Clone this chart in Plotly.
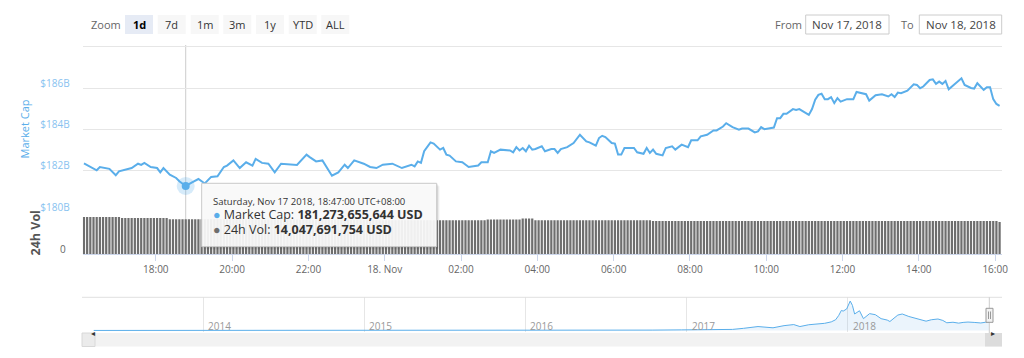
import plotly.graph_objects as go
import pandas as pd

# The page body keeps its default 8px margin, so the figure is 16px smaller
# than the window and all reference pixel positions are shifted by 8px.
OFF = 8
W, H = 1024 - 2 * OFF, 358 - 2 * OFF


def px(x):
    return (x - OFF) / W


def py(y):
    return 1 - (y - OFF) / H


# ---------------- data ----------------
# Market cap (billions USD), Nov 17 2018 (UTC+8)
mc_time_nov17 = ["16:07", "16:27", "16:32", "16:47", "16:57", "17:02", "17:22", "17:32", "17:37", "17:42",
                 "17:52", "18:02", "18:07", "18:12", "18:22", "18:32", "18:37", "18:47", "18:57", "19:07",
                 "19:17", "19:27", "19:37", "19:47", "19:52", "20:02", "20:12", "20:22", "20:32", "20:37",
                 "20:47", "20:57", "21:07", "21:17", "21:42", "21:57", "22:02", "22:12", "22:22", "22:37",
                 "22:47", "22:57", "23:02", "23:12", "23:27", "23:37", "23:47", "23:57"]
mc_value_nov17 = [182.36, 182.03, 182.19, 182.10, 181.79, 181.98, 182.14, 182.35, 182.29, 182.39,
                  182.19, 182.14, 181.93, 182.14, 181.82, 181.66, 181.50, 181.273655644, 181.45, 181.61,
                  181.39, 181.71, 181.74, 182.19, 182.26, 182.51, 182.14, 182.42, 182.26, 182.58,
                  182.39, 182.35, 181.93, 182.35, 182.29, 182.79, 182.67, 182.46, 182.51, 181.77,
                  181.93, 182.30, 182.14, 182.51, 182.35, 182.19, 182.14, 182.30]
# Nov 18 2018
mc_time_nov18 = ["00:12", "00:27", "00:42", "00:47", "00:52", "00:57", "01:02", "01:12", "01:17", "01:27",
                 "01:32", "01:37", "01:42", "01:52", "02:02", "02:12", "02:27", "02:32", "02:42", "02:47",
                 "02:52", "03:02", "03:17", "03:22", "03:27", "03:32", "03:37", "03:42", "03:47", "03:52",
                 "03:57", "04:07", "04:12", "04:22", "04:27", "04:32", "04:37", "04:47", "04:57", "05:07",
                 "05:17", "05:22", "05:32", "05:37", "05:42", "05:47", "05:57", "06:02", "06:07", "06:12",
                 "06:17", "06:32", "06:37", "06:47", "06:52", "06:57", "07:02", "07:07", "07:17", "07:22",
                 "07:32", "07:37", "07:47", "07:57", "08:02", "08:12", "08:17", "08:27", "08:37", "08:42",
                 "08:52", "08:57", "09:07", "09:17", "09:22", "09:32", "09:42", "09:47", "09:52", "09:57",
                 "10:12", "10:17", "10:22", "10:27", "10:32", "10:42", "10:47", "10:52", "11:07", "11:12",
                 "11:17", "11:22", "11:27", "11:32", "11:37", "11:42", "11:47", "11:52", "11:57", "12:07",
                 "12:17", "12:22", "12:37", "12:42", "12:52", "13:02", "13:12", "13:17", "13:22", "13:27",
                 "13:32", "13:42", "13:52", "13:57", "14:02", "14:07", "14:17", "14:22", "14:27", "14:32",
                 "14:37", "14:42", "14:47", "14:57", "15:02", "15:07", "15:12", "15:22", "15:27", "15:32",
                 "15:42", "15:47", "15:52", "15:57", "16:02", "16:07"]
mc_value_nov18 = [182.35, 182.14, 182.30, 182.22, 182.46, 182.39, 182.95, 183.38, 183.32, 183.03,
                  183.11, 182.79, 182.74, 182.46, 182.42, 182.19, 182.26, 182.42, 182.42, 182.95,
                  182.87, 183.03, 182.99, 182.90, 183.15, 182.99, 183.11, 182.95, 183.22, 183.03,
                  183.06, 183.19, 182.95, 183.06, 183.06, 182.87, 183.06, 183.15, 183.35, 183.75,
                  183.43, 183.38, 183.22, 183.59, 183.70, 183.64, 183.35, 183.32, 182.79, 182.79,
                  183.11, 183.11, 182.90, 182.83, 183.11, 182.87, 183.03, 182.83, 182.75, 183.11,
                  183.19, 183.03, 183.27, 183.15, 183.48, 183.48, 183.67, 183.75, 183.96, 183.96,
                  184.15, 184.31, 184.12, 183.99, 184.05, 184.05, 183.86, 183.91, 184.12, 184.02,
                  184.10, 184.55, 184.55, 184.76, 184.76, 184.99, 184.95, 184.99, 184.71, 184.99,
                  185.44, 185.68, 185.73, 185.47, 185.47, 185.57, 185.28, 185.52, 185.35, 185.47,
                  185.47, 185.82, 185.71, 185.40, 185.66, 185.71, 185.60, 185.71, 185.57, 185.79,
                  185.76, 185.88, 186.19, 186.16, 186.00, 186.08, 186.40, 186.43, 186.21, 186.32,
                  186.21, 186.35, 185.95, 186.21, 186.32, 186.48, 186.16, 186.01, 185.98, 186.24,
                  185.92, 186.05, 186.05, 185.47, 185.24, 185.15]

# 24h volume (billions USD), one bar every 5 minutes from 16:07 Nov 17 to 16:07 Nov 18
vol_start = "2018-11-17 16:07"
vol_value = [
    14.98, 14.97, 14.98, 14.99, 14.98, 14.98, 14.97, 14.98, 14.98, 14.99, 14.98, 14.97,
    14.58, 14.57, 14.58, 14.59, 14.58, 14.58, 14.57, 14.58, 14.58, 14.59, 14.58, 14.57,
    14.58, 14.58, 14.57, 14.06, 14.05, 14.06, 14.07, 14.06, 14.05, 14.06, 14.06, 14.07,
    14.06, 14.05, 14.05, 14.04, 14.05, 14.04, 14.03, 14.04, 14.03, 14.02, 14.03, 14.02,
    14.01, 14.02, 14.01, 14.00, 14.01, 14.00, 13.99, 14.00, 13.98, 13.99, 13.98, 13.97,
    13.96, 13.95, 13.96, 13.95, 13.94, 13.93, 13.94, 13.92, 13.91, 13.92, 13.90, 13.89,
    13.88, 13.87, 13.88, 13.86, 13.85, 13.84, 13.85, 13.83, 13.82, 13.81, 13.80, 13.79,
    13.78, 13.77, 13.76, 13.77, 13.75, 13.74, 13.73, 13.74, 13.72, 13.71, 13.70, 13.71,
    13.70, 13.69, 13.68, 13.69, 13.67, 13.66, 13.67, 13.66, 13.65, 13.66, 13.65, 13.66,
    13.65, 13.64, 13.65, 13.65, 13.66, 13.65, 13.64, 13.65, 13.66, 13.65, 13.64, 13.65,
    13.66, 13.65, 13.64, 13.65, 13.66, 13.65, 13.64, 13.95, 13.96, 13.95, 13.94, 13.95,
    13.96, 13.95, 13.94, 13.95, 13.96, 13.95, 14.34, 14.35, 14.34, 14.33, 13.65, 13.66,
    13.65, 13.64, 13.65, 13.66, 13.65, 13.64, 13.65, 13.66, 13.65, 13.64, 13.65, 13.66,
    13.65, 13.64, 13.65, 13.66, 13.65, 13.64, 13.65, 13.66, 13.65, 13.64, 13.65, 13.66,
    13.65, 13.64, 13.65, 13.66, 13.65, 13.64, 13.65, 13.66, 13.65, 13.64, 13.65, 13.37,
    13.37, 13.36, 13.37, 13.38, 13.37, 13.36, 13.37, 13.38, 13.37, 13.36, 13.37, 13.38,
    13.37, 13.38, 13.37, 13.36, 13.37, 13.38, 13.37, 13.36, 13.37, 13.37, 13.38, 13.37,
    13.36, 13.37, 13.38, 13.37, 13.36, 13.37, 13.38, 13.37, 13.36, 13.37, 13.38, 13.37,
    13.37, 13.36, 13.37, 13.38, 13.37, 13.36, 13.37, 13.38, 13.37, 13.36, 13.37, 13.38,
    13.38, 13.37, 13.36, 13.37, 13.38, 13.37, 13.36, 13.37, 13.38, 13.37, 13.36, 13.37,
    13.37, 13.36, 13.37, 13.38, 13.37, 13.36, 13.37, 13.38, 13.37, 13.36, 13.37, 13.38,
    13.36, 13.37, 13.38, 13.37, 13.36, 13.37, 13.38, 13.37, 13.36, 13.37, 13.38, 13.37,
    13.37, 13.38, 13.37, 13.36, 13.37, 13.38, 13.37, 13.36, 13.37, 13.38, 13.37, 13.36,
    13.37, 13.36, 13.37, 13.38, 13.37, 13.36, 13.37, 13.38, 13.37, 13.36, 13.37, 13.37,
    12.97,
]

# Navigator: full history of market cap (billions USD)
nav_date = ["2013-04-28", "2013-06-15", "2013-08-15", "2013-10-15", "2013-11-15", "2013-12-04",
            "2013-12-20", "2014-01-15", "2014-02-15", "2014-03-15", "2014-04-15", "2014-06-15",
            "2014-08-15", "2014-10-15", "2014-12-15", "2015-01-15", "2015-03-15", "2015-06-15",
            "2015-08-15", "2015-11-05", "2016-01-15", "2016-03-15", "2016-06-15", "2016-07-15",
            "2016-10-15", "2016-12-20", "2017-01-15", "2017-03-10", "2017-04-15", "2017-05-10",
            "2017-05-25", "2017-06-12", "2017-07-16", "2017-08-10", "2017-09-01", "2017-09-15",
            "2017-10-05", "2017-10-25", "2017-11-10", "2017-11-25", "2017-12-05", "2017-12-12",
            "2017-12-18", "2017-12-22", "2017-12-30", "2018-01-07", "2018-01-12", "2018-01-17",
            "2018-01-28", "2018-02-06", "2018-02-20", "2018-03-05", "2018-03-18", "2018-04-01",
            "2018-04-07", "2018-04-25", "2018-05-05", "2018-05-20", "2018-06-05", "2018-06-28",
            "2018-07-10", "2018-07-25", "2018-08-05", "2018-08-14", "2018-08-28", "2018-09-10",
            "2018-09-20", "2018-10-01", "2018-10-15", "2018-10-30", "2018-11-10", "2018-11-18"]
nav_value = [1.6, 1.2, 1.3, 2.0, 5.0, 15.0,
             8.0, 10.0, 8.0, 7.0, 6.0, 8.0,
             7.0, 5.0, 4.5, 3.0, 4.0, 3.7,
             4.0, 5.5, 7.0, 7.5, 11.0, 11.0,
             11.0, 17.0, 18.0, 24.0, 30.0, 60.0,
             85.0, 110.0, 75.0, 135.0, 165.0, 110.0,
             160.0, 180.0, 200.0, 240.0, 300.0, 420.0,
             560.0, 540.0, 600.0, 820.0, 700.0, 460.0,
             550.0, 330.0, 470.0, 440.0, 330.0, 290.0,
             250.0, 430.0, 460.0, 390.0, 330.0, 260.0,
             300.0, 320.0, 280.0, 215.0, 230.0, 205.0,
             225.0, 235.0, 225.0, 210.0, 230.0, 235.0]
nav_years = ["2014", "2015", "2016", "2017", "2018"]

# Axis ticks
y_tick_vals = [180, 182, 184, 186, 188]
y_tick_text = ["$180B", "$182B", "$184B", "$186B", ""]
x_tick_vals = ["2018-11-17 18:00", "2018-11-17 20:00", "2018-11-17 22:00", "2018-11-18 00:00",
               "2018-11-18 02:00", "2018-11-18 04:00", "2018-11-18 06:00", "2018-11-18 08:00",
               "2018-11-18 10:00", "2018-11-18 12:00", "2018-11-18 14:00", "2018-11-18 16:00"]
x_tick_text = ["18:00", "20:00", "22:00", "18. Nov", "02:00", "04:00", "06:00", "08:00",
               "10:00", "12:00", "14:00", "16:00"]

# Highlighted point (tooltip)
hover_time = "2018-11-17 18:47"
hover_label = "Saturday, Nov 17 2018, 18:47:00 UTC+08:00"
hover_mcap = 181273655644
hover_vol = 14047691754

range_buttons = ["1d", "7d", "1m", "3m", "1y", "YTD", "ALL"]
date_from = "Nov 17, 2018"
date_to = "Nov 18, 2018"

# ---------------- build ----------------
mc_x = ["2018-11-17 " + t for t in mc_time_nov17] + ["2018-11-18 " + t for t in mc_time_nov18]
mc_y = mc_value_nov17 + mc_value_nov18
vol_x = pd.date_range(vol_start, periods=len(vol_value), freq="5min")

BLUE = "#5aaeea"
FONT = "Open Sans"

fig = go.Figure()

fig.add_trace(go.Scatter(x=mc_x, y=mc_y, mode="lines", line=dict(color=BLUE, width=2),
                         xaxis="x", yaxis="y", hoverinfo="skip", showlegend=False))
hv = mc_y[mc_x.index(hover_time)]
fig.add_trace(go.Scatter(x=[hover_time], y=[hv], mode="markers",
                         marker=dict(size=18, color="rgba(90,174,234,0.25)"),
                         xaxis="x", yaxis="y", hoverinfo="skip", showlegend=False))
fig.add_trace(go.Scatter(x=[hover_time], y=[hv], mode="markers",
                         marker=dict(size=8, color=BLUE),
                         xaxis="x", yaxis="y", hoverinfo="skip", showlegend=False))
fig.add_trace(go.Bar(x=vol_x, y=vol_value, marker=dict(color="#6e6e6e", line=dict(width=0)),
                     xaxis="x2", yaxis="y2", hoverinfo="skip", showlegend=False))
fig.add_trace(go.Scatter(x=nav_date, y=nav_value, mode="lines", line=dict(color=BLUE, width=1),
                         fill="tozeroy", fillcolor="rgba(124,181,236,0.15)",
                         xaxis="x3", yaxis="y3", hoverinfo="skip", showlegend=False))

xdom = [px(82.7), px(1001.5)]
xr = ["2018-11-17 16:05", "2018-11-18 16:10"]

fig.update_layout(
    width=W, height=H, margin=dict(l=0, r=0, t=0, b=0, autoexpand=False),
    paper_bgcolor="white", plot_bgcolor="white",
    font=dict(family=FONT, size=11, color="#666666"),
    bargap=0.3,
    xaxis=dict(domain=xdom, range=xr, type="date", anchor="y", showticklabels=False,
               showgrid=False, zeroline=False, showline=False, ticks="", automargin=False),
    yaxis=dict(domain=[py(212.5), py(45)], range=[179.99, 188.09], anchor="x",
               tickvals=y_tick_vals, ticktext=y_tick_text, showgrid=True, gridcolor="#e6e6e6",
               gridwidth=1, zeroline=False, showline=False, ticks="", automargin=False,
               tickfont=dict(color="#88c2f0", size=10, family=FONT),
               ticklabelshift=-5, ticklabelstandoff=12),
    xaxis2=dict(domain=xdom, range=xr, type="date", anchor="y2", matches="x", automargin=False,
                tickvals=x_tick_vals, ticktext=x_tick_text, showgrid=False, zeroline=False,
                showline=True, linecolor="#ccd6eb", linewidth=1, ticks="outside", ticklen=6,
                tickcolor="#ccd6eb", tickfont=dict(color="#666666", size=10, family=FONT)),
    yaxis2=dict(domain=[py(254), py(213.5)], range=[0, 16.4], anchor="x2", automargin=False,
                tickvals=[0], ticktext=["0"], showgrid=False, zeroline=False, showline=False,
                ticks="", tickfont=dict(color="#666666", size=10, family=FONT),
                ticklabelshift=-5, ticklabelstandoff=16),
    xaxis3=dict(domain=xdom, range=["2013-04-03", "2018-12-16"], type="date", anchor="y3",
                showgrid=True, gridcolor="#e6e6e6", dtick="M12", tick0="2014-01-01",
                showticklabels=False, ticks="", automargin=False, zeroline=False,
                showline=False),
    yaxis3=dict(domain=[py(332), py(297.3)], range=[-42, 925], anchor="x3", visible=False,
                showgrid=False, automargin=False),
)

shapes = []
annots = []

# navigator year labels (at the year gridlines)
for yr in nav_years:
    annots.append(dict(text=yr, x=f"{yr}-01-01", xref="x3", y=py(326), yref="paper",
                       xanchor="left", yanchor="middle", xshift=3, showarrow=False,
                       font=dict(family=FONT, size=10, color="#999999")))

# crosshair
shapes.append(dict(type="line", xref="x", yref="paper", x0=hover_time, x1=hover_time,
                   y0=py(254), y1=py(45), line=dict(color="#cccccc", width=1), layer="below"))

# range selector
annots.append(dict(text="Zoom", x=px(89), y=py(24.5), xref="paper", yref="paper",
                   xanchor="left", yanchor="middle", showarrow=False,
                   font=dict(family=FONT, size=11, color="#666666")))
btn_x0 = [125, 157.7, 190.7, 223.3, 256, 288.7, 321.3]
for i, (lbl, x0) in enumerate(zip(range_buttons, btn_x0)):
    sel = i == 0
    shapes.append(dict(type="rect", xref="paper", yref="paper", x0=px(x0), x1=px(x0 + 28),
                       y0=py(34), y1=py(15), fillcolor="#e6ebf5" if sel else "#f7f7f7",
                       line=dict(width=0)))
    annots.append(dict(text=f"<b>{lbl}</b>" if sel else lbl, x=px(x0 + 14), y=py(24.5),
                       xref="paper", yref="paper", xanchor="center", yanchor="middle",
                       showarrow=False,
                       font=dict(family=FONT, size=11, color="#000000" if sel else "#333333")))

# date inputs
annots.append(dict(text="From", x=px(773), y=py(24.5), xref="paper", yref="paper",
                   xanchor="left", yanchor="middle", showarrow=False,
                   font=dict(family=FONT, size=11, color="#666666")))
annots.append(dict(text="To", x=px(899), y=py(24.5), xref="paper", yref="paper",
                   xanchor="left", yanchor="middle", showarrow=False,
                   font=dict(family=FONT, size=11, color="#666666")))
for (x0, x1, txt) in [(805.7, 889, date_from), (919.3, 1001.7, date_to)]:
    shapes.append(dict(type="rect", xref="paper", yref="paper", x0=px(x0), x1=px(x1),
                       y0=py(34), y1=py(15), fillcolor="white",
                       line=dict(color="#cccccc", width=1)))
    annots.append(dict(text=txt, x=px((x0 + x1) / 2), y=py(24.5), xref="paper", yref="paper",
                       xanchor="center", yanchor="middle", showarrow=False,
                       font=dict(family=FONT, size=11.5, color="#444444")))

# axis titles
annots.append(dict(text="Market Cap", x=px(23.5), y=py(129), xref="paper", yref="paper",
                   textangle=-90, showarrow=False, xanchor="center", yanchor="middle",
                   font=dict(family=FONT, size=11, color="#5aaeea")))
annots.append(dict(text="<b>24h Vol</b>", x=px(34.5), y=py(233), xref="paper", yref="paper",
                   textangle=-90, showarrow=False, xanchor="center", yanchor="middle",
                   font=dict(family=FONT, size=12.5, color="#555555")))

# navigator top outline and selection
shapes.append(dict(type="line", xref="paper", yref="paper", x0=px(82), x1=px(1002),
                   y0=py(297.3), y1=py(297.3), line=dict(color="#e0e0e0", width=1)))
shapes.append(dict(type="line", xref="paper", yref="paper", x0=px(989.3), x1=px(989.3),
                   y0=py(333), y1=py(297.3), line=dict(color="#cccccc", width=1)))
shapes.append(dict(type="rect", xref="paper", yref="paper", x0=px(986), x1=px(993),
                   y0=py(322.3), y1=py(308.3), fillcolor="#f2f2f2",
                   line=dict(color="#999999", width=1)))
for xx in (988.5, 990.5):
    shapes.append(dict(type="line", xref="paper", yref="paper", x0=px(xx), x1=px(xx),
                       y0=py(319), y1=py(311.5), line=dict(color="#999999", width=1)))

# scrollbar
shapes.append(dict(type="rect", xref="paper", yref="paper", x0=px(82), x1=px(1002),
                   y0=py(346.5), y1=py(333), fillcolor="#f2f2f2", line=dict(width=0)))
shapes.append(dict(type="rect", xref="paper", yref="paper", x0=px(82), x1=px(95),
                   y0=py(346.5), y1=py(333), fillcolor="#ebebeb",
                   line=dict(color="#d8d8d8", width=1)))
shapes.append(dict(type="rect", xref="paper", yref="paper", x0=px(985), x1=px(1002),
                   y0=py(346.5), y1=py(333), fillcolor="#dcdcdc", line=dict(width=0)))
annots.append(dict(text="◂", x=px(88.5), y=py(339.5), xref="paper", yref="paper",
                   showarrow=False, font=dict(size=8, color="#333333")))
annots.append(dict(text="▸", x=px(996.5), y=py(339.5), xref="paper", yref="paper",
                   showarrow=False, font=dict(size=8, color="#333333")))

# tooltip
tx0, tx1, ty0, ty1 = 201.7, 436.7, 183.3, 246.7
for k, a in ((3, 0.04), (2, 0.06), (1, 0.09)):
    shapes.append(dict(type="rect", xref="paper", yref="paper", x0=px(tx0 + k), x1=px(tx1 + k),
                       y0=py(ty1 + k), y1=py(ty0 + k), fillcolor=f"rgba(0,0,0,{a})",
                       line=dict(width=0)))
shapes.append(dict(type="rect", xref="paper", yref="paper", x0=px(tx0), x1=px(tx1),
                   y0=py(ty1), y1=py(ty0), fillcolor="rgba(252,252,252,0.92)",
                   line=dict(color="#c8c8c8", width=1)))
annots.append(dict(text=hover_label, x=px(210.5), y=py(201.7), xref="paper", yref="paper",
                   xanchor="left", yanchor="middle", showarrow=False,
                   font=dict(family=FONT, size=9.5, color="#333333")))
annots.append(dict(text=f"<span style='color:{BLUE}'>●</span> Market Cap: <b>{hover_mcap:,} USD</b>",
                   x=px(210.5), y=py(214.5), xref="paper", yref="paper",
                   xanchor="left", yanchor="middle", showarrow=False,
                   font=dict(family=FONT, size=12.5, color="#333333")))
annots.append(dict(text=f"<span style='color:#6e6e6e'>●</span> 24h Vol: <b>{hover_vol:,} USD</b>",
                   x=px(210.5), y=py(229.5), xref="paper", yref="paper",
                   xanchor="left", yanchor="middle", showarrow=False,
                   font=dict(family=FONT, size=12.5, color="#333333")))

fig.update_layout(shapes=shapes, annotations=annots)
fig.write_html("out.html")
